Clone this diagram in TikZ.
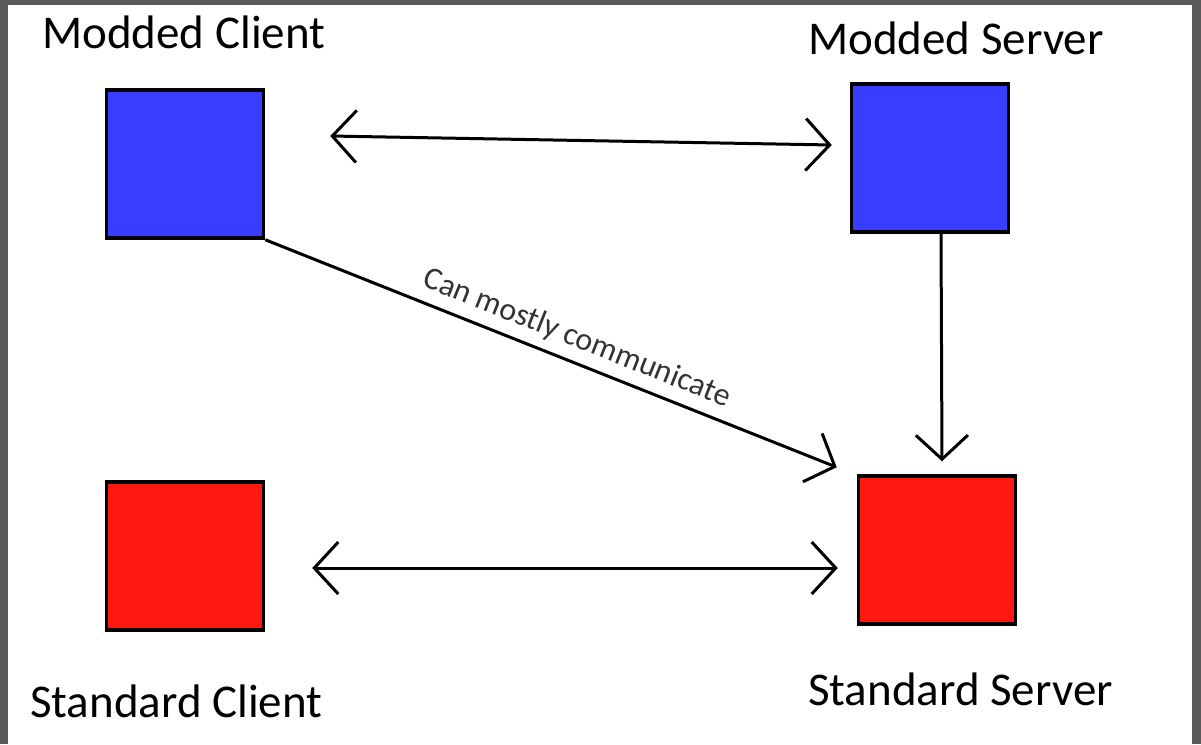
\documentclass[tikz,border=0pt]{standalone}
\usepackage{fontspec}
\setmainfont{Carlito}
\usetikzlibrary{arrows.meta}
\definecolor{moddedblue}{RGB}{56,62,255}
\definecolor{standardred}{RGB}{255,24,16}
\definecolor{framegray}{RGB}{90,90,90}

\begin{document}
\begin{tikzpicture}[x=1pt,y=-1pt,>={Straight Barb[length=24pt,width=52pt]}]
\tikzstyle{box}=[rectangle,draw=black,line width=3.5pt,minimum width=157pt,minimum height=148pt,inner sep=0pt]
\tikzstyle{lbl}=[anchor=base west,inner sep=0pt,font=\fontsize{47}{56}\selectfont]
\tikzstyle{conn}=[line width=3pt]

\fill[framegray] (0,0) rectangle (1201,744);
\fill[white] (8,5) rectangle (1192,744);
\useasboundingbox (0,0) rectangle (1201,744);

\node[box,fill=moddedblue] (mclient) at (185,164) {};
\node[box,fill=moddedblue] (mserver) at (930,158) {};
\node[box,fill=standardred] (sclient) at (185,556) {};
\node[box,fill=standardred] (sserver) at (937,550) {};

\node[lbl] (mclientlbl) at (42,48) {Modded Client};
\node[lbl] (mserverlbl) at (808,54) {Modded Server};
\node[lbl] (sclientlbl) at (30,717) {Standard Client};
\node[lbl] (sserverlbl) at (808,705) {Standard Server};

\draw[conn,<->] ([xshift=65pt,yshift=28pt]mclient.east) -- ([xshift=-18pt,yshift=13pt]mserver.west);
\draw[conn,<->] ([xshift=47pt,yshift=-12pt]sclient.east) -- ([xshift=-19pt,yshift=-18pt]sserver.west);
\draw[conn,->] ([xshift=11pt]mserver.south) -- ([xshift=5pt,yshift=13pt]sserver.north);
\draw[conn,->] (mclient.south east) -- ([xshift=-20pt,yshift=7pt]sserver.north west)
  node[sloped,above=5pt,pos=0.53,font=\fontsize{32}{38}\selectfont,text=black!80] (commlbl) {Can mostly communicate};

\end{tikzpicture}
\end{document}
